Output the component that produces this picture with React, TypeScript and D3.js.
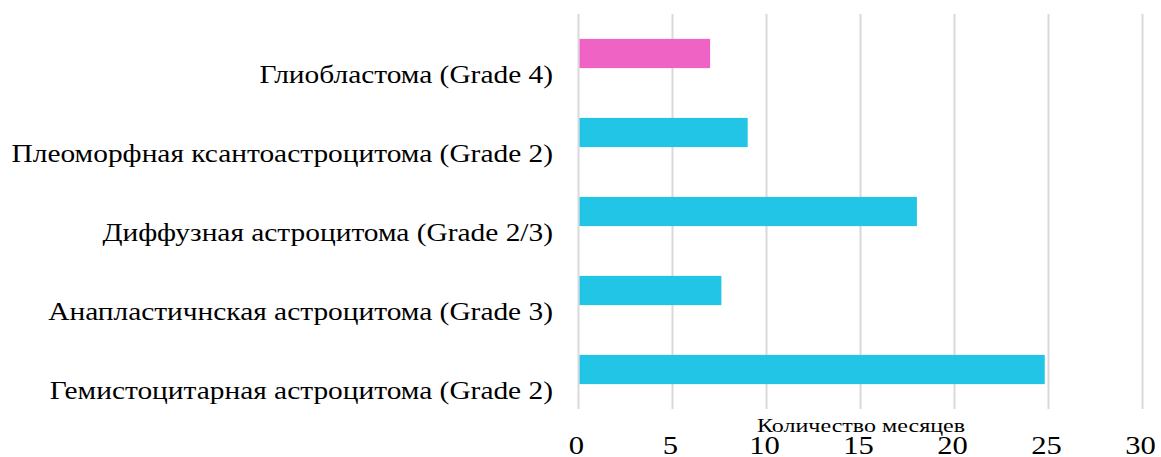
import React from 'react';
import * as d3 from 'd3';

const categories = [
  'Глиобластома (Grade 4)',
  'Плеоморфная ксантоастроцитома (Grade 2)',
  'Диффузная астроцитома (Grade 2/3)',
  'Анапластичнская астроцитома (Grade 3)',
  'Гемистоцитарная астроцитома (Grade 2)',
];
const months = [7, 9, 18, 7.6, 24.8];
const barColors = ['#ef63c5', '#22c5e6', '#22c5e6', '#22c5e6', '#22c5e6'];
const xTicks = [0, 5, 10, 15, 20, 25, 30];
const xTitle = 'Количество месяцев';

const width = 1161;
const height = 457;
const margin = { top: 14, right: 18, bottom: 48, left: 578.5 };
const serif = 'Liberation Serif, Times New Roman, serif';
// the original text is a bit stretched sideways
const stretch = 1.2;

const App: React.FC = () => {
  const x = d3.scaleLinear().domain([0, 30]).range([margin.left, width - margin.right - 0.5]);
  const y = d3.scaleBand<string>()
    .domain(categories)
    .range([margin.top, height - margin.bottom])
    .paddingInner(0.63)
    .paddingOuter(0.315);
  const step = y.step();

  return (
    <svg width={width} height={height} style={{ position: 'absolute', left: 0, top: 0, fontFamily: serif }}>
      {/* gridlines */}
      {xTicks.map(t => (
        <line key={t} x1={x(t)} x2={x(t)} y1={margin.top} y2={height - margin.bottom}
          stroke="#d9d9d9" strokeWidth={2} />
      ))}
      {/* bars */}
      {categories.map((c, i) => (
        <rect key={c} x={x(0) + 1} y={y(c)} width={x(months[i]) - x(0) - 1} height={y.bandwidth()}
          fill={barColors[i]} />
      ))}
      {/* category labels, sit a bit under the bar */}
      {categories.map(c => (
        <g key={c} transform={`translate(553, ${(y(c) || 0) + y.bandwidth() / 2 + step * 0.3 + 6}) scale(${stretch}, 1)`}>
          <text textAnchor="end" fontSize={24.5} fill="#000">{c}</text>
        </g>
      ))}
      {/* tick labels */}
      {xTicks.map(t => (
        <g key={t} transform={`translate(${x(t) - 2}, 454) scale(${stretch}, 1)`}>
          <text textAnchor="middle" fontSize={25.5} fill="#000">{t}</text>
        </g>
      ))}
      <g transform={`translate(861, 431.5) scale(1.3, 1)`}>
        <text textAnchor="middle" fontSize={18.5} fill="#000">{xTitle}</text>
      </g>
    </svg>
  );
};

export default App;
